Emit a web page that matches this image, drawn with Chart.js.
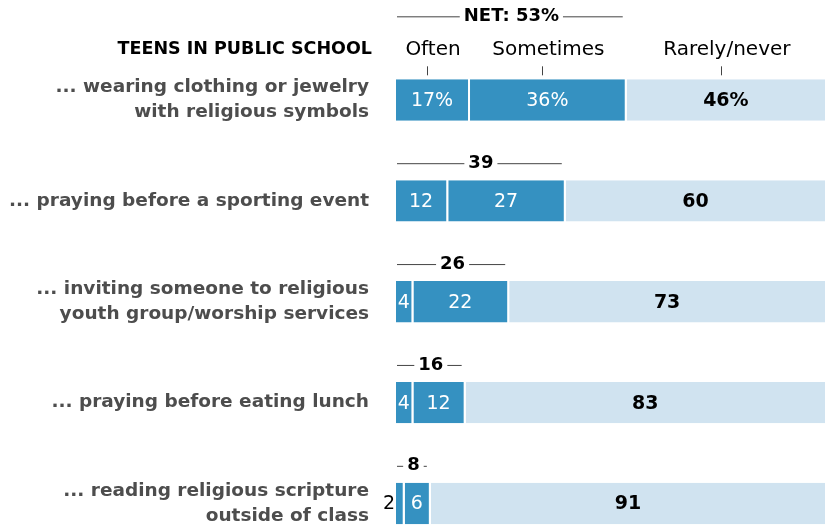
<!DOCTYPE html>
<html>
<head>
<meta charset="utf-8">
<script src="https://cdn.jsdelivr.net/npm/chart.js@4.4.0/dist/chart.umd.min.js"></script>
<style>
  html, body { margin: 0; padding: 0; background: #fff; }
  #wrap { width: 827px; height: 525px; }
</style>
</head>
<body>
<div id="wrap"><canvas id="chart" width="827" height="525"></canvas></div>
<script>
// Activities (two-line labels are arrays)
const categories = [
  ['... wearing clothing or jewelry', 'with religious symbols'],
  '... praying before a sporting event',
  ['... inviting someone to religious', 'youth group/worship services'],
  '... praying before eating lunch',
  ['... reading religious scripture', 'outside of class']
];
const seriesNames = ['Often', 'Sometimes', 'Rarely/never'];
const often = [17, 12, 4, 4, 2];
const sometimes = [36, 27, 22, 12, 6];
const rarely = [46, 60, 73, 83, 91];
const net = [53, 39, 26, 16, 8];

const DARK = '#3591c1';
const LIGHT = '#d0e3f0';
const FONT = '"DejaVu Sans", Roboto, sans-serif';

// Numbers on each segment; too-narrow segments get the number to their left
const valueLabels = {
  id: 'valueLabels',
  afterDatasetsDraw(chart) {
    const ctx = chart.ctx;
    ctx.save();
    ctx.textBaseline = 'middle';
    chart.data.datasets.forEach((ds, di) => {
      const meta = chart.getDatasetMeta(di);
      meta.data.forEach((bar, i) => {
        const { x, base, y } = bar.getProps(['x', 'base', 'y'], true);
        const left = Math.min(x, base);
        const w = Math.abs(x - base) - 2;
        const text = ds.data[i] + (i === 0 ? '%' : '');
        const light = di === 2;
        ctx.font = (light ? 'bold ' : '') + '19px ' + FONT;
        const tw = ctx.measureText(text).width;
        if (tw + 2 > w) {
          ctx.fillStyle = '#000';
          ctx.textAlign = 'right';
          ctx.fillText(text, left - 1, y + 1);
        } else {
          ctx.fillStyle = light ? '#000' : '#fff';
          ctx.textAlign = 'center';
          ctx.fillText(text, left + w / 2, y + 1);
        }
      });
    });
    ctx.restore();
  }
};

// NET brackets, series names and the header above the bars
const annotations = {
  id: 'annotations',
  afterDraw(chart) {
    const ctx = chart.ctx;
    const xs = chart.scales.x;
    ctx.save();
    ctx.textBaseline = 'middle';

    chart.getDatasetMeta(0).data.forEach((bar, i) => {
      const { y, height } = bar.getProps(['y', 'height'], true);
      const top = y - height / 2;
      const yLine = i === 0 ? top - 63 : top - 17;
      const x0 = xs.getPixelForValue(0);
      const x1 = xs.getPixelForValue(net[i]);
      const text = i === 0 ? 'NET: ' + net[i] + '%' : String(net[i]);
      ctx.font = 'bold 18px ' + FONT;
      const tw = ctx.measureText(text).width;
      const cx = (x0 + x1) / 2;
      ctx.fillStyle = '#000';
      ctx.textAlign = 'center';
      ctx.fillText(text, cx, yLine);
      ctx.strokeStyle = '#444';
      ctx.lineWidth = 1;
      ctx.beginPath();
      ctx.moveTo(x0 + 1, yLine + 0.5);
      ctx.lineTo(cx - tw / 2 - 4, yLine + 0.5);
      ctx.moveTo(cx + tw / 2 + 4, yLine + 0.5);
      ctx.lineTo(x1 - 4, yLine + 0.5);
      ctx.stroke();
    });

    // series names over the first bar
    const first = chart.getDatasetMeta(0).data[0];
    const top0 = first.y - first.height / 2;
    chart.data.datasets.forEach((ds, di) => {
      const bar = chart.getDatasetMeta(di).data[0];
      const cx = (bar.x + bar.base) / 2;
      ctx.font = '20px ' + FONT;
      ctx.fillStyle = '#000';
      ctx.textAlign = 'center';
      ctx.fillText(ds.label, cx, top0 - 30);
      ctx.strokeStyle = '#444';
      ctx.beginPath();
      ctx.moveTo(Math.round(cx - 6) + 0.5, top0 - 13);
      ctx.lineTo(Math.round(cx - 6) + 0.5, top0 - 4);
      ctx.stroke();
    });

    ctx.font = 'bold 17.5px ' + FONT;
    ctx.fillStyle = '#000';
    ctx.textAlign = 'right';
    ctx.fillText('TEENS IN PUBLIC SCHOOL', 372, top0 - 30);
    ctx.restore();
  }
};

new Chart(document.getElementById('chart'), {
  type: 'bar',
  data: {
    labels: categories,
    datasets: [
      { label: seriesNames[0], data: often, backgroundColor: DARK },
      { label: seriesNames[1], data: sometimes, backgroundColor: DARK },
      { label: seriesNames[2], data: rarely, backgroundColor: LIGHT }
    ]
  },
  options: {
    indexAxis: 'y',
    responsive: false,
    animation: false,
    layout: { padding: { top: 100, bottom: 21.5, left: 0, right: 0 } },
    datasets: {
      bar: {
        borderColor: '#fff',
        borderWidth: { top: 0, right: 2, bottom: 0, left: 0 },
        borderSkipped: false,
        barPercentage: 0.41,
        categoryPercentage: 1,
        clip: false
      }
    },
    plugins: {
      legend: { display: false },
      tooltip: { enabled: false }
    },
    scales: {
      x: { stacked: true, min: 0, max: 99, display: false },
      y: {
        stacked: true,
        offset: false,
        grid: { display: false, drawTicks: false },
        border: { display: false },
        ticks: {
          color: '#4d4d4d',
          padding: 27,
          font: { family: FONT, size: 18.5, weight: 'bold', lineHeight: 1.35 }
        },
        afterFit(scale) {
          scale.width = 396;
          scale.paddingTop = 0;
          scale.paddingBottom = 0;
        }
      }
    }
  },
  plugins: [valueLabels, annotations]
});
</script>
</body>
</html>
